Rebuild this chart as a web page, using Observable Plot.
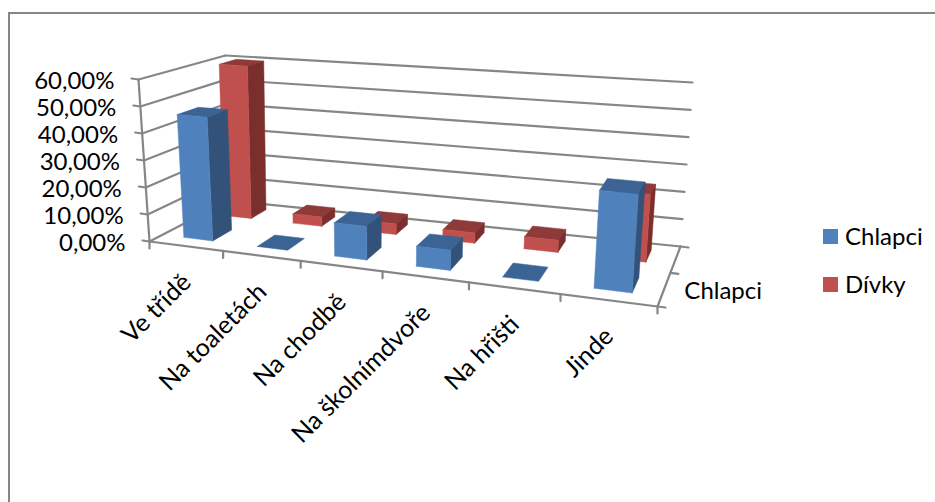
<!DOCTYPE html>
<html>
<head>
<meta charset="utf-8">
<script src="https://cdn.jsdelivr.net/npm/d3@7"></script>
<script src="https://cdn.jsdelivr.net/npm/@observablehq/plot@0.6"></script>
<style>
  html, body { margin: 0; padding: 0; background: #fff; }
  #chart { position: relative; width: 935px; height: 502px; overflow: hidden; }
  #chart svg { display: block; background: transparent; }
  .frame { position: absolute; left: 8px; top: 12px; width: 940px; height: 600px; border: 2px solid #868686; box-sizing: border-box; }
  .legend { position: absolute; left: 823px; top: 221px; font: 24px Lato, sans-serif; color: #000; }
  .legend div { height: 48px; display: flex; align-items: flex-start; }
  .legend i { display: block; width: 15px; height: 15px; margin: 8px 7px 0 0; }
</style>
</head>
<body>
<div id="chart"><div class="frame"></div></div>
<script>
// Survey answers, in percent
const categories = ["Ve třídě", "Na toaletách", "Na chodbě", "Na školnímdvoře", "Na hřišti", "Jinde"];
const chlapci = [46, 0, 12, 7, 0, 33];
const divky = [60, 3.6, 4, 3.8, 4.4, 24];
const valueTicks = [0, 10, 20, 30, 40, 50, 60];
const tickLabels = ["0,00%", "10,00%", "20,00%", "30,00%", "40,00%", "50,00%", "60,00%"];
const seriesNames = ["Chlapci", "Dívky"];

// Box corners of the 3D scene: [x, y] on the drawing plane
const box = {
  fl0: [149, 241], fr0: [657, 306], bl0: [228, 200], br0: [680, 246],
  fl1: [138, 79], fr1: [670, 122], bl1: [225, 55], br1: [692, 82]
};
const maxValue = 60;
const foreshortenU = 1.18, foreshortenD = 0.786;
const warp = (t, k) => t / (t + k * (1 - t));
const mix = (a, b, t) => [a[0] + (b[0] - a[0]) * t, a[1] + (b[1] - a[1]) * t];

// Project (category position, depth position, value) through the box
function project(u, d, v) {
  const U = warp(u, foreshortenU), D = warp(d, foreshortenD), V = v / maxValue;
  const bottom = mix(mix(box.fl0, box.fr0, U), mix(box.bl0, box.br0, U), D);
  const top = mix(mix(box.fl1, box.fr1, U), mix(box.bl1, box.br1, U), D);
  return mix(bottom, top, V);
}

const barGap = 0.3, depthGap = 0.27;

// Three visible faces of one column
function faces(i, j, value, name) {
  const u0 = (i + barGap) / 6, u1 = (i + 1 - barGap) / 6;
  const d0 = (j + depthGap) / 2, d1 = (j + 1 - depthGap) / 2;
  const poly = (kind, pts) => pts.map(([u, d, v]) => {
    const [x, y] = project(u, d, v);
    return { id: `${name}-${i}-${kind}`, kind, x, y };
  });
  return [
    ...poly("top", [[u0, d0, value], [u1, d0, value], [u1, d1, value], [u0, d1, value], [u0, d0, value]]),
    ...(value > 0 ? poly("side", [[u1, d0, 0], [u1, d1, 0], [u1, d1, value], [u1, d0, value], [u1, d0, 0]]) : []),
    ...(value > 0 ? poly("front", [[u0, d0, 0], [u1, d0, 0], [u1, d0, value], [u0, d0, value], [u0, d0, 0]]) : [])
  ];
}

const palette = {
  "Chlapci": { front: "#4F81BD", side: "#33527A", top: "#3B6494" },
  "Dívky": { front: "#C0504D", side: "#7B2F2D", top: "#8E3A38" }
};

const series = [
  { name: "Dívky", j: 1, values: divky },
  { name: "Chlapci", j: 0, values: chlapci }
];

const barMarks = series.flatMap(({ name, j, values }) => {
  const rows = values.flatMap((v, i) => faces(i, j, v, name));
  return ["top", "side", "front"].map(kind =>
    Plot.line(rows.filter(r => r.kind === kind), {
      x: "x", y: "y", z: "id", fill: palette[name][kind], stroke: palette[name][kind], strokeWidth: 0.5
    }));
});

// Grid, axis lines and tick marks as short segments
const seg = (id, a, b) => [{ id, x: a[0], y: a[1] }, { id, x: b[0], y: b[1] }];
const off = (p, dx, dy) => [p[0] + dx, p[1] + dy];
const gridRows = valueTicks.flatMap(v => [
  ...seg(`l${v}`, project(0, 0, v), project(0, 1, v)),
  ...seg(`b${v}`, project(0, 1, v), project(1, 1, v)),
  ...seg(`t${v}`, project(0, 0, v), off(project(0, 0, v), -7, -1))
]);
const axisRows = [
  ...seg("va", project(0, 0, 0), project(0, 0, maxValue)),
  ...seg("ca", project(0, 0, 0), project(1, 0, 0)),
  ...seg("da", project(1, 0, 0), project(1, 1, 0)),
  ...d3.range(7).flatMap(i => seg(`ct${i}`, project(i / 6, 0, 0), off(project(i / 6, 0, 0), 0, 7))),
  ...[0, 0.5, 1].flatMap(d => seg(`dt${d}`, project(1, d, 0), off(project(1, d, 0), 8, 1)))
];

const valueLabels = valueTicks.map((v, i) => ({ label: tickLabels[i], x: project(0, 0, v)[0], y: project(0, 0, v)[1] }));
const categoryLabels = categories.map((label, i) => {
  const [x, y] = project((i + 0.5) / 6, 0, 0);
  return { label, x, y };
});
const depthLabel = (() => {
  const [x, y] = project(1, 0.25, 0);
  return [{ label: seriesNames[0], x, y }];
})();

const textStyle = { fontFamily: "Lato, sans-serif", fontSize: 24, fill: "#000" };

const svg = Plot.plot({
  width: 935, height: 502, margin: 0,
  style: { background: "transparent" },
  x: { type: "linear", domain: [0, 935], range: [0, 935], axis: null },
  y: { type: "linear", domain: [0, 502], range: [0, 502], axis: null },
  marks: [
    Plot.line(gridRows, { x: "x", y: "y", z: "id", stroke: "#868686", strokeWidth: 2.2 }),
    Plot.line(axisRows, { x: "x", y: "y", z: "id", stroke: "#868686", strokeWidth: 2.2 }),
    ...barMarks,
    Plot.text(valueLabels, { x: "x", y: "y", text: "label", textAnchor: "end", dx: -24, dy: 2, ...textStyle }),
    Plot.text(categoryLabels, { x: "x", y: "y", text: "label", textAnchor: "end", rotate: -45, dx: 1, dy: 32, ...textStyle, fontSize: 25 }),
    Plot.text(depthLabel, { x: "x", y: "y", text: "label", textAnchor: "start", dx: 20, dy: 3, ...textStyle })
  ]
});

const root = document.getElementById("chart");
root.appendChild(svg);

const legend = document.createElement("div");
legend.className = "legend";
seriesNames.forEach(name => {
  const row = document.createElement("div");
  const swatch = document.createElement("i");
  swatch.style.background = palette[name].front;
  row.append(swatch, document.createTextNode(name));
  legend.appendChild(row);
});
root.appendChild(legend);
</script>
</body>
</html>
